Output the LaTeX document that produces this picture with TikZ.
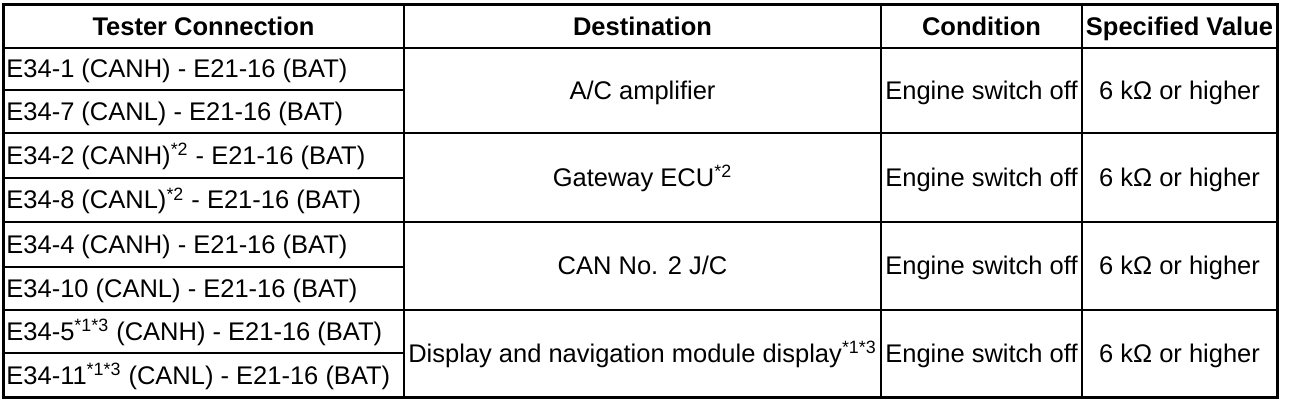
\documentclass[tikz,border=0pt]{standalone}
\usepackage{fontspec}
\setmainfont{Liberation Sans}

\begin{document}
\begin{tikzpicture}[x=0.5pt,y=-0.5pt,
    cell/.style={inner sep=0pt,anchor=base,font=\fontsize{12.75}{15}\selectfont},
    headcell/.style={cell,font=\fontsize{12.75}{15}\selectfont\bfseries},
    leftcell/.style={cell,anchor=base west}]
    % 固定画布大小
    \useasboundingbox (0,0) rectangle (1312,406);

    % 绘制表格外框
    \draw[line width=1.5pt] (3,5) rectangle (1277,397);

    % 绘制表头分隔线和分组线
    \draw[line width=1.25pt] (3,48) -- (1277,48);
    \draw[line width=1.1pt] (3,133) -- (1277,133) (3,222) -- (1277,222) (3,310) -- (1277,310);

    % 绘制第一列内的细分隔线
    \draw[line width=0.85pt] (3,90) -- (404,90) (3,178) -- (404,178) (3,267) -- (404,267) (3,353) -- (404,353);

    % 绘制列分隔线
    \draw[line width=1.1pt] (404,5) -- (404,397) (881,5) -- (881,397) (1082,5) -- (1082,397);

    % 表头
    \node[headcell] (tester) at (203.5,35.5) {Tester Connection};
    \node[headcell] (dest) at (642.5,35.5) {Destination};
    \node[headcell] (cond) at (981.5,35.5) {Condition};
    \node[headcell] (spec) at (1179.5,35.5) {Specified Value};

    % 测试端子
    \node[leftcell] (r1) at (6,78) {E34-1 (CANH) - E21-16 (BAT)};
    \node[leftcell] (r2) at (6,120.5) {E34-7 (CANL) - E21-16 (BAT)};
    \node[leftcell] (r3) at (6,164.5) {E34-2 (CANH)\textsuperscript{*2} - E21-16 (BAT)};
    \node[leftcell] (r4) at (6,209) {E34-8 (CANL)\textsuperscript{*2} - E21-16 (BAT)};
    \node[leftcell] (r5) at (6,253.5) {E34-4 (CANH) - E21-16 (BAT)};
    \node[leftcell] (r6) at (6,297.5) {E34-10 (CANL) - E21-16 (BAT)};
    \node[leftcell] (r7) at (6,340.5) {E34-5\textsuperscript{*1*3} (CANH) - E21-16 (BAT)};
    \node[leftcell] (r8) at (6,384) {E34-11\textsuperscript{*1*3} (CANL) - E21-16 (BAT)};

    % 目标
    \node[cell] (d1) at (642.5,99.5) {A/C amplifier};
    \node[cell] (d2) at (642.5,186.5) {Gateway ECU\textsuperscript{*2}};
    \node[cell] (d3) at (642.5,275) {CAN No. 2 J/C};
    \node[cell] (d4) at (642.5,362.5) {Display and navigation module display\textsuperscript{*1*3}};

    % 条件和规定值
    \foreach \y [count=\i] in {99.5,186.5,275,362.5} {
        \node[cell] (c\i) at (981.5,\y) {Engine switch off};
        \node[cell] (v\i) at (1179.5,\y) {6 kΩ or higher};
    }
\end{tikzpicture}
\end{document}
